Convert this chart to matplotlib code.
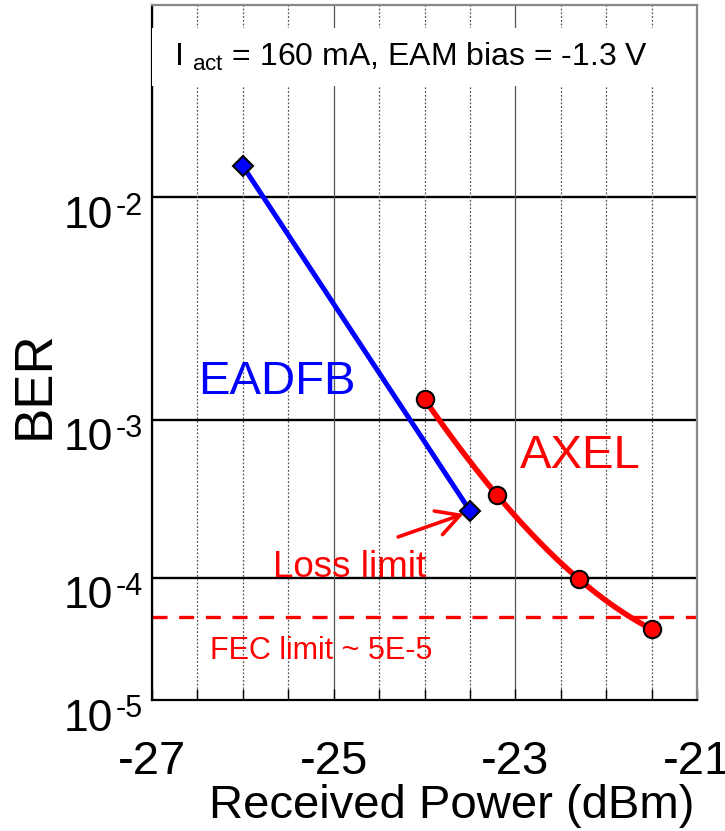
import matplotlib
matplotlib.use('Agg')
import matplotlib.pyplot as plt
import numpy as np
from matplotlib.ticker import FixedLocator, MultipleLocator, NullFormatter
from matplotlib.patches import Rectangle

plt.rcParams['font.family'] = ['Liberation Sans', 'DejaVu Sans']
plt.rcParams['mathtext.fontset'] = 'custom'
plt.rcParams['mathtext.rm'] = 'Liberation Sans'
plt.rcParams['mathtext.it'] = 'Liberation Sans'
plt.rcParams['mathtext.default'] = 'regular'
plt.rcParams['axes.unicode_minus'] = False

#data
eadfb_power = [-26.0, -23.5]
eadfb_ber = [1.29e-2, 2.88e-4]
axel_power = [-24.0, -23.2, -22.3, -21.5]
axel_ber = [1.29e-3, 3.61e-4, 9.75e-5, 4.03e-5]
fec_limit = 5e-5
y_ticks = [1e-5, 1e-4, 1e-3, 1e-2]
y_exponents = ['-5', '-4', '-3', '-2']
x_ticks = [-27, -25, -23, -21]


#BER axis: -log10(-log10(BER))
def fwd(y):
	y = np.clip(np.asarray(y, dtype=float), 1e-300, 1 - 1e-12)
	return -np.log10(-np.log10(y))


def inv(t):
	return 10 ** (-10 ** (-np.asarray(t, dtype=float)))


fig = plt.figure(figsize=(7.25, 8.31), dpi=100)
ax = fig.add_axes([152 / 725, 1 - 700 / 831, 545 / 725, 695 / 831])
ax.set_yscale('function', functions=(fwd, inv))
ax.set_xlim(-27, -21)
ax.set_ylim(1e-5, 0.039)

#grid
ax.xaxis.set_major_locator(FixedLocator(x_ticks))
ax.xaxis.set_minor_locator(MultipleLocator(0.5))
ax.grid(True, axis='x', which='major', color='#555555', lw=0.9, ls='-')
ax.grid(True, axis='x', which='minor', color='#555555', lw=0.9, ls=(0, (1.5, 1.5)))
for yv in y_ticks[1:]:
	ax.axhline(yv, color='black', lw=1.7, zorder=1)

#FEC limit
ax.axhline(fec_limit, color='red', lw=2.4, ls=(0, (4.5, 3.5)), zorder=2)

#EADFB
ax.plot(eadfb_power, eadfb_ber, color='blue', lw=3.6, zorder=3)
ax.plot(eadfb_power, eadfb_ber, ls='none', marker='D', ms=10, mfc='blue', mec='black', mew=1.5, zorder=5)

#AXEL: smooth curve through the measured points
coef = np.polyfit(axel_power, fwd(axel_ber), 3)
xs = np.linspace(axel_power[0], axel_power[-1], 200)
ax.plot(xs, inv(np.polyval(coef, xs)), color='red', lw=4, zorder=3)
ax.plot(axel_power, axel_ber, ls='none', marker='o', ms=12.5, mfc='red', mec='black', mew=1.5, zorder=5)

#labels inside the plot
ax.text(-25.62, 1.37e-3, 'EADFB', color='blue', fontsize=34, ha='center', va='baseline')
ax.text(-22.29, 5.28e-4, 'AXEL', color='red', fontsize=34, ha='center', va='baseline')
ax.text(-24.82, 1.01e-4, 'Loss limit', color='red', fontsize=26.5, ha='center', va='baseline')
ax.text(-25.14, 2.30e-5, 'FEC limit ~ 5E-5', color='red', fontsize=22, ha='center', va='baseline')
ax.annotate('', xy=(-23.57, 2.74e-4), xytext=(-24.29, 1.93e-4),
	arrowprops=dict(arrowstyle='->, head_length=0.55, head_width=0.3', color='red', lw=2.6,
		mutation_scale=30, shrinkA=0, shrinkB=0))

#condition box
ax.add_patch(Rectangle((0, (700 - 86) / 695), 0.985, 58 / 695, transform=ax.transAxes,
	facecolor='white', edgecolor='none', zorder=4))
ax.text(22 / 545, (700 - 57) / 695, 'I $_{\\rm act}$ = 160 mA, EAM bias = -1.3 V',
	transform=ax.transAxes, fontsize=23, ha='left', va='center', zorder=6)

#ticks
ax.yaxis.set_major_locator(FixedLocator(y_ticks))
ax.yaxis.set_major_formatter(NullFormatter())
ax.yaxis.set_minor_locator(FixedLocator([]))
ax.tick_params(axis='y', which='major', direction='in', length=8, width=1.2)
ax.tick_params(axis='x', which='both', direction='in', length=8, width=1.0, labelsize=34, pad=29)
ax.tick_params(axis='x', which='minor', labelbottom=False)

#y tick labels as 10 with a raised exponent
for yv, ex in zip(y_ticks, y_exponents):
	ax.annotate('10', xy=(0, yv), xycoords=('axes fraction', 'data'), xytext=(-28, -22),
		textcoords='offset points', fontsize=32, ha='right', va='baseline', annotation_clip=False)
	ax.annotate(ex, xy=(0, yv), xycoords=('axes fraction', 'data'), xytext=(-26.5, -12.5),
		textcoords='offset points', fontsize=22, ha='left', va='baseline', annotation_clip=False)

for side in ['left', 'bottom']:
	ax.spines[side].set_color('black')
	ax.spines[side].set_linewidth(1.6)
for side in ['top', 'right']:
	ax.spines[side].set_color('#888888')
	ax.spines[side].set_linewidth(1.6)

fig.text(35 / 725, 1 - 385 / 831, 'BER', rotation=90, fontsize=38, ha='center', va='center')
fig.text(452 / 725, 1 - 818 / 831, 'Received Power (dBm)', fontsize=34, ha='center', va='baseline')

fig.savefig('out.png', dpi=100)
